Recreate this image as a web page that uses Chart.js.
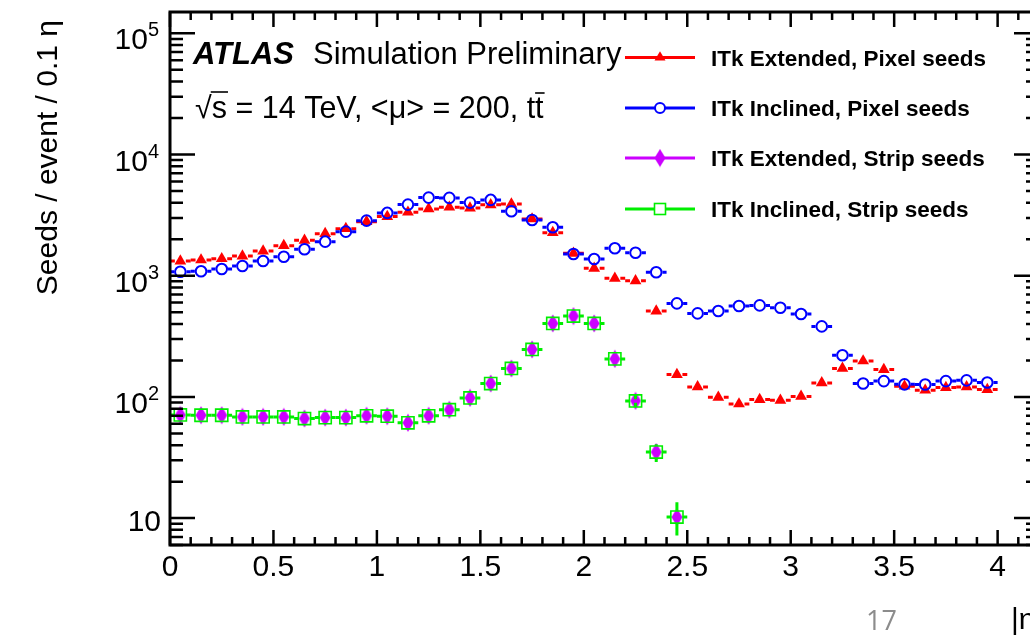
<!DOCTYPE html>
<html>
<head>
<meta charset="utf-8">
<script src="https://cdn.jsdelivr.net/npm/chart.js@4/dist/chart.umd.min.js"></script>
<style>
  html, body { margin: 0; padding: 0; background: #fff; overflow: hidden; width: 1030px; height: 635px; }
  #wrap { position: absolute; left: 0; top: 0; width: 1060px; height: 635px; }
</style>
</head>
<body>
<div id="wrap"><canvas id="c" width="1060" height="635"></canvas></div>
<script>
// |eta| bin centres (bin width 0.1)
const etaBins = [0.05, 0.15, 0.25, 0.35, 0.45, 0.55, 0.65, 0.75, 0.85, 0.95,
                 1.05, 1.15, 1.25, 1.35, 1.45, 1.55, 1.65, 1.75, 1.85, 1.95,
                 2.05, 2.15, 2.25, 2.35, 2.45, 2.55, 2.65, 2.75, 2.85, 2.95,
                 3.05, 3.15, 3.25, 3.35, 3.45, 3.55, 3.65, 3.75, 3.85, 3.95];
const binHalfWidth = 0.05;

// Seeds per event per 0.1 eta
const extendedPixel = [1323, 1349, 1382, 1455, 1600, 1770, 1962, 2224, 2446, 2795,
                       3074, 3342, 3558, 3675, 3613, 3850, 3900, 2942, 2267, 1531,
                       1151, 952, 909, 511, 153, 121, 99.4, 87.5, 95.2, 93.9,
                       101, 130.5, 172, 198, 168, 122.6, 113.6, 119.6, 121, 115];
const inclinedPixel = [1079, 1088, 1136, 1203, 1323, 1435, 1653, 1910, 2310, 2848,
                       3298, 3862, 4411, 4386, 4013, 4222, 3400, 2886, 2512, 1511,
                       1374, 1684, 1549, 1067, 591, 489, 511, 562, 569, 544,
                       483, 382, 221, 129, 135, 127, 126.6, 135, 137, 131.5];
const extendedStrip = [71, 70.6, 70.6, 68.4, 68.4, 68.4, 66.3, 67.5, 67.5, 69.9,
                       69.3, 61.2, 69.9, 78.4, 98.1, 129, 171.7, 246.5, 404, 464.5,
                       404, 206, 92.7, 35.1, 10.2];
const inclinedStrip = [71, 70.6, 70.6, 68.4, 68.4, 68.4, 66.3, 67.5, 67.5, 69.9,
                       69.3, 61.2, 69.9, 78.4, 98.1, 129, 171.7, 246.5, 404, 464.5,
                       404, 206, 92.7, 35.1, 10.2];
// statistical uncertainties on the strip seeds (only visible in the last bins)
const stripErrUp   = [0, 0, 0, 0, 0, 0, 0, 0, 0, 0, 0, 0, 0, 0, 0, 0, 0, 0, 0, 0, 0, 0, 3, 5.5, 3.3];
const stripErrDown = [0, 0, 0, 0, 0, 0, 0, 0, 0, 0, 0, 0, 0, 0, 0, 0, 0, 0, 0, 0, 0, 0, 3, 6, 3.0];

const seriesNames = ['ITk Extended, Pixel seeds', 'ITk Inclined, Pixel seeds',
                     'ITk Extended, Strip seeds', 'ITk Inclined, Strip seeds'];

// axis ticks
const xTickValues = [0, 0.5, 1, 1.5, 2, 2.5, 3, 3.5, 4];
const xTickLabels = ['0', '0.5', '1', '1.5', '2', '2.5', '3', '3.5', '4'];
const yTickValues = [10, 100, 1000, 10000, 100000];
const yTickBase = ['10', '10', '10', '10', '10'];
const yTickExp = ['', '2', '3', '4', '5'];

const RED = '#ff0000', BLUE = '#0000ff', PURPLE = '#cc00ff', GREEN = '#00ee00';
const FONT = '"Liberation Sans", Arial, Helvetica, sans-serif';

// tall filled diamond marker
function diamondMarker(color) {
  const c = document.createElement('canvas');
  c.width = 12; c.height = 19;
  const g = c.getContext('2d');
  g.fillStyle = color;
  g.beginPath();
  g.moveTo(6, 0.5); g.lineTo(11.5, 9.5); g.lineTo(6, 18.5); g.lineTo(0.5, 9.5);
  g.closePath(); g.fill();
  return c;
}
const diamondImg = diamondMarker(PURPLE);

function pts(values) { return values.map((v, i) => ({ x: etaBins[i], y: v })); }

// error-bar styles per dataset
const barStyles = [
  { color: RED, width: 3, dash: [6, 3], gap: 5.5 },
  { color: BLUE, width: 3, dash: [], gap: 6.2 },
  { color: PURPLE, width: 2, dash: [2, 3], gap: 5.5 },
  { color: GREEN, width: 3, dash: [], gap: 6.2 }
];
const errUp = [null, null, stripErrUp, stripErrUp];
const errDown = [null, null, stripErrDown, stripErrDown];

const rootStyle = {
  id: 'rootStyle',
  beforeDatasetDraw(chart, args) {
    const i = args.index;
    const st = barStyles[i];
    const xs = chart.scales.x, ys = chart.scales.y, a = chart.chartArea;
    const ctx = chart.ctx;
    const data = chart.data.datasets[i].data;
    ctx.save();
    ctx.beginPath(); ctx.rect(a.left, a.top, a.right - a.left, a.bottom - a.top); ctx.clip();
    ctx.strokeStyle = st.color; ctx.lineWidth = st.width; ctx.setLineDash(st.dash);
    data.forEach((p, j) => {
      const xc = xs.getPixelForValue(p.x);
      const xl = xs.getPixelForValue(p.x - binHalfWidth);
      const xr = xs.getPixelForValue(p.x + binHalfWidth);
      const yc = ys.getPixelForValue(p.y);
      ctx.beginPath();
      ctx.moveTo(xc - st.gap, yc); ctx.lineTo(xl, yc);
      ctx.moveTo(xc + st.gap, yc); ctx.lineTo(xr, yc);
      ctx.stroke();
      if (errUp[i] && errUp[i][j] > 0) {
        const yu = ys.getPixelForValue(p.y + errUp[i][j]);
        const yd = ys.getPixelForValue(p.y - errDown[i][j]);
        ctx.beginPath();
        ctx.moveTo(xc, yc - st.gap); ctx.lineTo(xc, yu);
        ctx.moveTo(xc, yc + st.gap); ctx.lineTo(xc, yd);
        ctx.stroke();
      }
    });
    ctx.restore();
  },
  afterDraw(chart) {
    const ctx = chart.ctx, a = chart.chartArea;
    const xs = chart.scales.x, ys = chart.scales.y;
    ctx.save();
    ctx.strokeStyle = '#000'; ctx.fillStyle = '#000';
    // frame
    ctx.lineWidth = 3;
    ctx.strokeRect(a.left, a.top, a.right - a.left, a.bottom - a.top);
    // x ticks, bottom and top
    ctx.lineWidth = 2.5;
    ctx.beginPath();
    for (let k = 0; k <= 42; k++) {
      const v = k / 10;
      const px = xs.getPixelForValue(v);
      const len = (k % 5 === 0) ? 15 : 8;
      ctx.moveTo(px, a.bottom); ctx.lineTo(px, a.bottom - len);
      ctx.moveTo(px, a.top); ctx.lineTo(px, a.top + len);
    }
    // y ticks, left and right (log decades)
    for (let d = 0; d <= 5; d++) {
      for (let m = 1; m <= 9; m++) {
        const v = m * Math.pow(10, d);
        if (v < ys.min || v > ys.max) continue;
        const py = ys.getPixelForValue(v);
        const len = (m === 1) ? 25 : 13;
        ctx.moveTo(a.left, py); ctx.lineTo(a.left + len, py);
        ctx.moveTo(a.right, py); ctx.lineTo(a.right - len, py);
      }
    }
    ctx.stroke();

    // x tick labels
    ctx.font = '30px ' + FONT;
    ctx.textAlign = 'center'; ctx.textBaseline = 'alphabetic';
    xTickValues.forEach((v, k) => {
      ctx.fillText(xTickLabels[k], xs.getPixelForValue(v), 576);
    });
    // y tick labels
    ctx.textAlign = 'right';
    yTickValues.forEach((v, k) => {
      const py = ys.getPixelForValue(v);
      if (yTickExp[k]) {
        ctx.font = '20px ' + FONT;
        ctx.fillText(yTickExp[k], 159, py + 3);
        const ew = ctx.measureText(yTickExp[k]).width;
        ctx.font = '30px ' + FONT;
        ctx.fillText(yTickBase[k], 159 - ew, py + 16);
      } else {
        ctx.font = '30px ' + FONT;
        ctx.fillText(yTickBase[k], 161, py + 13);
      }
    });

    // axis titles
    ctx.save();
    ctx.translate(57, 20);
    ctx.rotate(-Math.PI / 2);
    ctx.font = '30px ' + FONT;
    ctx.textAlign = 'right';
    ctx.fillText('Seeds / event / 0.1 \u03b7', 0, 0);
    ctx.restore();
    ctx.font = '30px ' + FONT;
    ctx.textAlign = 'left';
    ctx.fillText('|\u03b7|', 1011, 629);

    // ATLAS label
    ctx.font = 'italic bold 31px ' + FONT;
    ctx.fillText('ATLAS', 193, 64);
    ctx.font = '31px ' + FONT;
    ctx.fillText('Simulation Preliminary', 313, 64);

    // sqrt(s) = 14 TeV, <mu> = 200, ttbar
    ctx.font = '30.5px ' + FONT;
    let x = 195; const yb = 118;
    ctx.fillText('\u221a', x, yb);
    x += ctx.measureText('\u221a').width;
    const sw = ctx.measureText('s').width;
    ctx.fillText('s', x, yb);
    ctx.lineWidth = 1.6;
    ctx.beginPath(); ctx.moveTo(x - 1, yb - 26); ctx.lineTo(x + sw + 1, yb - 26); ctx.stroke();
    x += sw;
    const rest = ' = 14 TeV, <\u03bc> = 200, t';
    ctx.fillText(rest, x, yb);
    x += ctx.measureText(rest).width;
    const tw = ctx.measureText('t').width;
    ctx.fillText('t', x, yb);
    ctx.beginPath(); ctx.moveTo(x, yb - 25); ctx.lineTo(x + tw + 1, yb - 25); ctx.stroke();

    // legend
    const rows = [57.5, 108, 158, 209];
    const cols = [RED, BLUE, PURPLE, GREEN];
    rows.forEach((ry, k) => {
      ctx.strokeStyle = cols[k]; ctx.lineWidth = 3; ctx.setLineDash([]);
      ctx.beginPath(); ctx.moveTo(625, ry); ctx.lineTo(695, ry); ctx.stroke();
      const mx = 660;
      if (k === 0) {
        ctx.fillStyle = RED;
        ctx.beginPath(); ctx.moveTo(mx, ry - 6.2); ctx.lineTo(mx + 5.5, ry + 3.1); ctx.lineTo(mx - 5.5, ry + 3.1);
        ctx.closePath(); ctx.fill();
      } else if (k === 1) {
        ctx.fillStyle = '#fff'; ctx.lineWidth = 2;
        ctx.beginPath(); ctx.arc(mx, ry, 5, 0, Math.PI * 2); ctx.fill(); ctx.stroke();
      } else if (k === 2) {
        ctx.drawImage(diamondImg, mx - 6, ry - 9.5);
      } else {
        ctx.fillStyle = '#fff'; ctx.lineWidth = 1.6;
        ctx.fillRect(mx - 5.5, ry - 5.5, 11, 11); ctx.strokeRect(mx - 5.5, ry - 5.5, 11, 11);
      }
      ctx.fillStyle = '#000';
      ctx.font = 'bold 22.5px ' + FONT;
      ctx.fillText(seriesNames[k], 711, ry + 8);
    });

    // page number
    ctx.fillStyle = '#8c8c8c';
    ctx.font = '27px "Open Sans", ' + FONT;
    ctx.fillText('17', 866, 630);
    ctx.restore();
  }
};

new Chart(document.getElementById('c'), {
  type: 'scatter',
  data: {
    datasets: [
      { label: seriesNames[0], data: pts(extendedPixel), order: 4,
        pointStyle: 'triangle', pointRadius: 6.8, pointBorderWidth: 0,
        backgroundColor: RED, borderColor: RED },
      { label: seriesNames[1], data: pts(inclinedPixel), order: 3,
        pointStyle: 'circle', pointRadius: 5.3, pointBorderWidth: 2,
        backgroundColor: 'rgba(0,0,0,0)', borderColor: BLUE },
      { label: seriesNames[2], data: pts(extendedStrip), order: 2,
        pointStyle: diamondImg, pointRadius: 6,
        backgroundColor: PURPLE, borderColor: PURPLE },
      { label: seriesNames[3], data: pts(inclinedStrip), order: 1,
        pointStyle: 'rect', pointRadius: 8.6, pointBorderWidth: 1.6,
        backgroundColor: 'rgba(0,0,0,0)', borderColor: GREEN }
    ]
  },
  options: {
    responsive: false,
    animation: false,
    devicePixelRatio: 1,
    events: [],
    layout: { padding: { left: 170, top: 12, right: 21, bottom: 90 } },
    plugins: { legend: { display: false }, tooltip: { enabled: false } },
    scales: {
      x: { type: 'linear', min: 0, max: 4.2, display: false },
      y: { type: 'logarithmic', min: 6, max: 150000, display: false }
    }
  },
  plugins: [rootStyle]
});
</script>
</body>
</html>
